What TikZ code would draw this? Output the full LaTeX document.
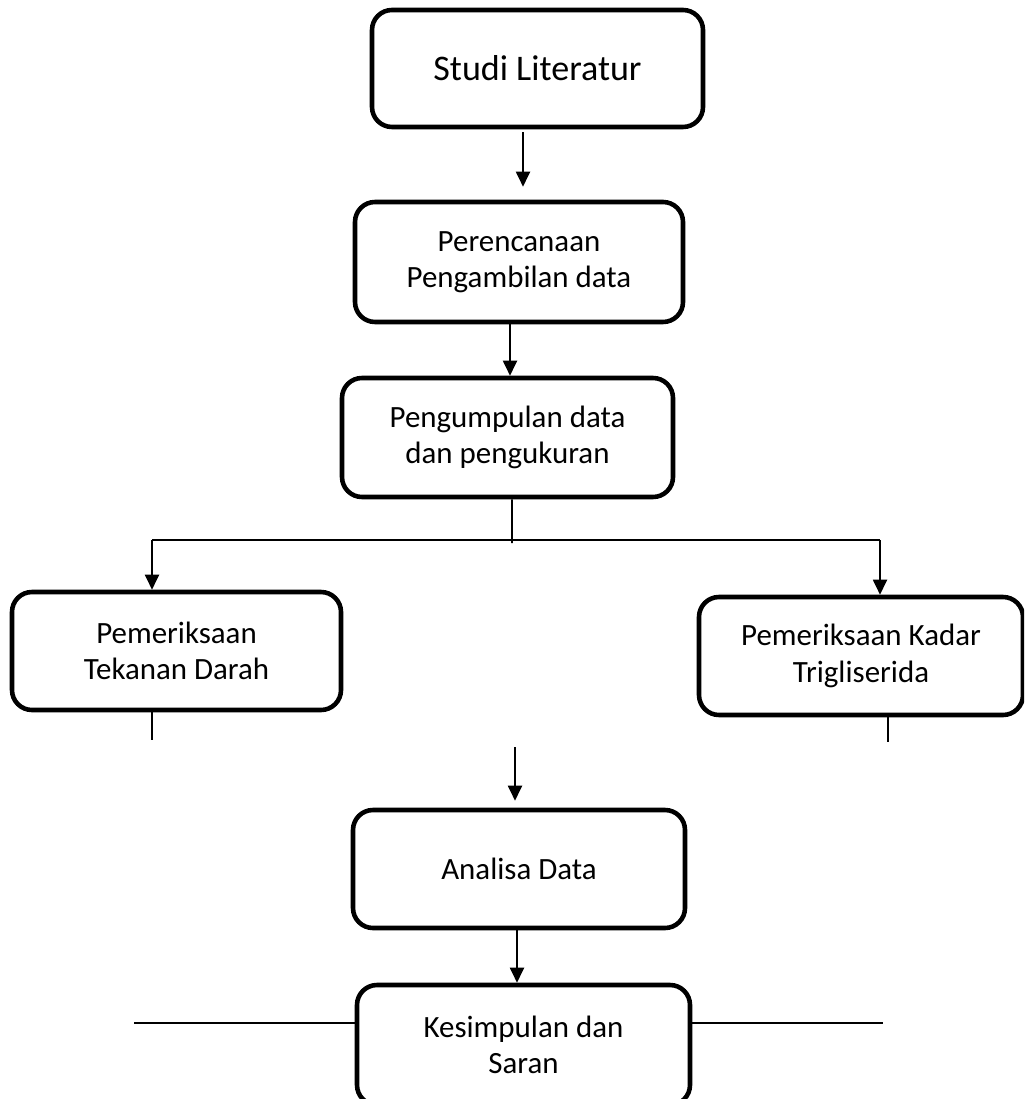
\documentclass[tikz,border=0pt]{standalone}
\usepackage{fontspec}
\setmainfont{Carlito}
\usetikzlibrary{positioning, calc, arrows.meta}

\tikzset{
    procbox/.style={draw, line width=2.6pt, rounded corners=0.4cm, align=center, font=\fontsize{17.6}{20.6}\selectfont},
    link/.style={line width=1.1pt},
    arr/.style={link, -{Triangle[length=0.3cm, width=0.28cm]}}
}

\begin{document}
\begin{tikzpicture}
    \useasboundingbox (0,0) rectangle (20.48,-21.98);
    \clip (0,0) rectangle (20.48,-21.98);

    \node[procbox, minimum width=6.62cm, minimum height=2.34cm, font=\fontsize{20.5}{24}\selectfont] (studi) at (10.75,-1.37) {Studi Literatur};
    \node[procbox, minimum width=6.56cm, minimum height=2.4cm] (rencana) at (10.38,-5.24) {Perencanaan\\Pengambilan data};
    \node[procbox, minimum width=6.62cm, minimum height=2.38cm] (kumpul) at (10.15,-8.75) {Pengumpulan data\\dan pengukuran};
    \node[procbox, minimum width=6.58cm, minimum height=2.36cm] (tekanan) at (3.53,-13.02) {Pemeriksaan\\Tekanan Darah};
    \node[procbox, minimum width=6.48cm, minimum height=2.36cm] (trigli) at (17.22,-13.12) {Pemeriksaan Kadar\\Trigliserida};
    \node[procbox, minimum width=6.64cm, minimum height=2.36cm] (analisa) at (10.38,-17.38) {Analisa Data};
    \node[procbox, minimum width=6.66cm, minimum height=2.4cm] (simpul) at (10.47,-20.9) {Kesimpulan dan\\Saran};

    \coordinate (lt) at (3.04,-10.8);
    \coordinate (rt) at (17.6,-10.8);
    \coordinate (mid) at (10.24,-10.86);
    \coordinate (tekend) at (3.04,-14.8);
    \coordinate (triend) at (17.76,-14.84);
    \coordinate (join) at (10.3,-14.94);
    \coordinate (sidel) at (2.68,-20.46);
    \coordinate (sider) at (17.66,-20.46);

    \draw[arr, shorten <=0.06cm, shorten >=0.26cm] ([xshift=-0.29cm]studi.south) -- ([xshift=-0.29cm]studi.south |- rencana.north);
    \draw[arr] ([xshift=-0.18cm]rencana.south) -- ([xshift=-0.18cm]rencana.south |- kumpul.north);

    \draw[link] ([xshift=0.09cm]kumpul.south) -- (mid);
    \draw[link] (lt) -- (rt);
    \draw[arr] (lt) -- (lt |- tekanan.north);
    \draw[arr] (rt) -- (rt |- trigli.north);

    \draw[link] (tekend |- tekanan.south) -- (tekend);
    \draw[link] (triend |- trigli.south) -- (triend);

    \draw[arr, shorten >=0.14cm] (join) -- (join |- analisa.north);
    \draw[arr] ([xshift=-0.04cm]analisa.south) -- ([xshift=-0.04cm]analisa.south |- simpul.north);

    \draw[link] (sidel) -- (sidel -| simpul.west);
    \draw[link] (simpul.east |- sider) -- (sider);
\end{tikzpicture}
\end{document}
